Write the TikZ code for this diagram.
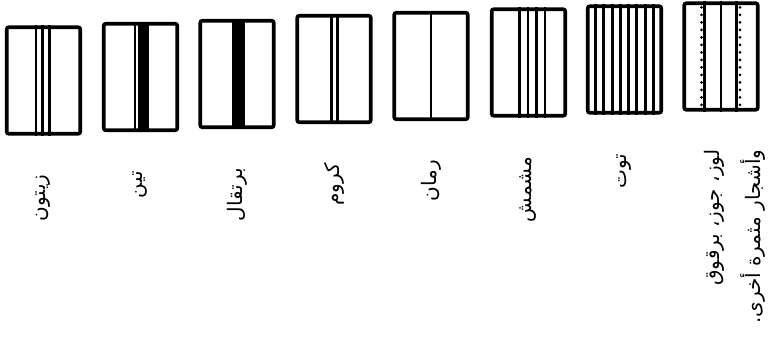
\documentclass[tikz,border=0pt]{standalone}
\usepackage{fontspec}
\newfontfamily\arabicfont[Script=Arabic]{DejaVu Sans}
\TeXXeTstate=1
\tikzset{
  field/.style={draw, line width=3.6pt, rounded corners=2pt, minimum width=73.5pt, minimum height=106.5pt, inner sep=0pt},
  stripe/.style={line width=2.6pt},
  dotrow/.style={line width=3pt, line cap=round, dash pattern=on 0pt off 7.5pt},
  crop/.style={rotate=90, anchor=east, inner sep=0pt, font=\arabicfont\fontsize{20}{41}\selectfont},
}
\begin{document}
\begin{tikzpicture}[x=1pt,y=1pt]
\useasboundingbox (0,0) rectangle (774,-351);
\node[field] (olive) at (43.5,-80.5) {};
\node[field] (fig) at (140.5,-77) {};
\node[field] (orange) at (237,-74) {};
\node[field] (vine) at (334,-69) {};
\node[field] (pomegranate) at (431,-66) {};
\node[field] (apricot) at (528.5,-62.5) {};
\node[field] (mulberry) at (624.5,-59.5) {};
\node[field] (nuts) at (721,-56.5) {};
\foreach \d in {-7.5,-1,6}
  \draw[stripe] ([xshift=\d pt]olive.north) -- ([xshift=\d pt]olive.south);
\draw[stripe] ([xshift=-5.5pt]fig.north) -- ([xshift=-5.5pt]fig.south);
\fill ([xshift=-2.5pt]fig.north) rectangle ([xshift=8.5pt]fig.south);
\fill ([xshift=-5.5pt]orange.north) rectangle ([xshift=7.5pt]orange.south);
\foreach \d in {-2.5,3.5}
  \draw[stripe] ([xshift=\d pt]vine.north) -- ([xshift=\d pt]vine.south);
\draw[stripe] (pomegranate.north) -- (pomegranate.south);
\foreach \d in {-9,-0.5,8,16.5}
  \draw[stripe] ([xshift=\d pt]apricot.north) -- ([xshift=\d pt]apricot.south);
\foreach \d in {-28.8,-20.6,-12.3,-4.1,4.1,12.3,20.6,28.8}
  \draw[stripe, line width=3pt] ([xshift=\d pt]mulberry.north) -- ([xshift=\d pt]mulberry.south);
\foreach \d in {-16.5,0,15.5}
  \draw[stripe] ([xshift=\d pt]nuts.north) -- ([xshift=\d pt]nuts.south);
\foreach \d in {-19.5,19}
  \draw[dotrow] ([xshift=\d pt,yshift=-6pt]nuts.north) -- ([xshift=\d pt,yshift=4pt]nuts.south);
% labels
\node[crop] (olivelabel) at ([yshift=-39pt]olive.south) {\beginR زيتون\endR};
\node[crop] (figlabel) at ([yshift=-39pt]fig.south) {\beginR تين\endR};
\node[crop] (orangelabel) at ([yshift=-39pt]orange.south) {\beginR برتقال\endR};
\node[crop] (vinelabel) at ([yshift=-39pt]vine.south) {\beginR كروم\endR};
\node[crop] (pomegranatelabel) at ([yshift=-39pt]pomegranate.south) {\beginR رمان\endR};
\node[crop] (apricotlabel) at ([yshift=-39pt]apricot.south) {\beginR مشمش\endR};
\node[crop] (mulberrylabel) at ([yshift=-39pt]mulberry.south) {\beginR توت\endR};
\node[crop, align=right] (nutslabel) at ([xshift=14pt,yshift=-38pt]nuts.south) {\beginR لوز، جوز، برقوق\endR\\\beginR وأشجار مثمرة أخرى.\endR};
\end{tikzpicture}
\end{document}
